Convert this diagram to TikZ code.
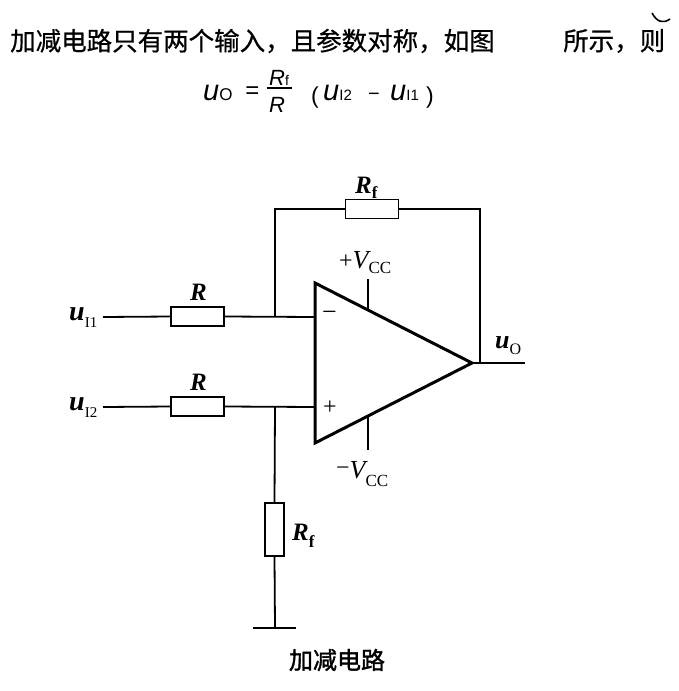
\documentclass[tikz,border=0pt]{standalone}
\usepackage{fontspec}
\setmainfont{Liberation Serif}
\newfontfamily\cjk[FakeBold=0.6]{Noto Sans CJK SC}
\newfontfamily\cjkb[FakeBold=1.5]{Noto Sans CJK SC}
\newfontfamily\hsans{Liberation Sans}
\newcommand\fsz[1]{\fontsize{#1}{#1}\selectfont}
\tikzset{
  wire/.style={line width=1.8pt},
  resh/.style={draw, line width=1.5pt, rectangle, inner sep=0pt, fill=white, minimum width=53pt, minimum height=19pt},
  resv/.style={draw, line width=1.5pt, rectangle, inner sep=0pt, fill=white, minimum width=19pt, minimum height=53pt},
  opamp/.style={line width=3pt, line join=miter},
  lbl/.style={inner sep=0pt, anchor=base west},
  ctr/.style={inner sep=0pt, anchor=center},
}
\begin{document}
\begin{tikzpicture}[x=1pt,y=-1pt]
\useasboundingbox[fill=white] (0,0) rectangle (679,691);

% ---- top text ----
\node[inner sep=0pt, anchor=west] (t1) at (10,41) {\cjk\fsz{25.5}加减电路只有两个输入，且参数对称，如图};
\node[inner sep=0pt, anchor=west] (t2) at (563,41) {\cjk\fsz{25.5}所示，则};
\draw[line width=1.6pt] (652,13) .. controls (657,22) and (663,24) .. (670,19);

% formula
\node[lbl] (fuo) at (203,100) {\hsans{\itshape\fsz{29}u}{\fsz{17}O}};
\node[ctr] (feq) at (252.5,93) {\hsans\fsz{24}=};
\node[lbl] (fnum) at (269,85) {\hsans{\itshape\fsz{22}R}{\fsz{14}f}};
\node[lbl] (fden) at (269,112) {\hsans\itshape\fsz{22}R};
\draw[line width=1.3pt] (267,88) -- (292,88);
\node[lbl] (fpl) at (311,103) {\hsans\fsz{23}(};
\node[lbl] (fu2) at (323,100) {\hsans{\itshape\fsz{29}u}{\fsz{15}I2}};
\node[ctr] (fmi) at (374,97) {\hsans\fsz{20}−};
\node[lbl] (fu1) at (390,100) {\hsans{\itshape\fsz{29}u}{\fsz{15}I1}};
\node[lbl] (fpr) at (426,103) {\hsans\fsz{23})};

% ---- circuit coordinates ----
\coordinate (in1) at (103,317);
\coordinate (in2) at (103,407);
\coordinate (j1) at (275,317);
\coordinate (j2) at (275,407);
\coordinate (ftl) at (275,209);
\coordinate (ftr) at (480,209);
\coordinate (A) at (315,283);
\coordinate (B) at (315,443);
\coordinate (C) at (472,363);
\coordinate (nin) at (315,317);
\coordinate (pin) at (315,407);
\coordinate (jo) at (480,363);
\coordinate (out) at (525,363);
\coordinate (vpt) at (368,279);
\coordinate (vpe) at (368,310);
\coordinate (vne) at (368,416);
\coordinate (vnb) at (368,450);
\coordinate (gnd) at (275,628);
\coordinate (gl) at (253,628);
\coordinate (gr) at (296,628);

% resistors
\node[resh] (r1) at (197.5,316.5) {};
\node[resh] (r2) at (197.5,406.5) {};
\node[resh] (rf) at (372,209) {};
\node[resv] (rg) at (274.5,529.5) {};

% wires
\draw[wire] (in1) -- (r1.west);
\draw[wire] (r1.east) -- (nin);
\draw[wire] (in2) -- (r2.west);
\draw[wire] (r2.east) -- (pin);
\draw[wire] (j1) -- (ftl) -- (rf.west);
\draw[wire] (rf.east) -- (ftr) -- (jo);
\draw[wire] (C) -- (out);
\draw[wire] (j2) -- (rg.north);
\draw[wire] (rg.south) -- (gnd);
\draw[wire] (gl) -- (gr);
\draw[wire] (vpt) -- (vpe);
\draw[wire] (vne) -- (vnb);

% op-amp
\draw[opamp] (A) -- (B) -- (C) -- cycle;
\node[ctr] (sm) at (329.5,316) {\fsz{26}−};
\node[ctr] (sp) at (330,408) {\fsz{24}+};

% labels
\node[lbl] (lu1) at (69,320) {{\bfseries\itshape\fsz{28}u}\raisebox{-7pt}{\fsz{15}I1}};
\node[lbl] (lu2) at (69,410) {{\bfseries\itshape\fsz{28}u}\raisebox{-7pt}{\fsz{15}I2}};
\node[lbl] (lr1) at (190,300) {\bfseries\itshape\fsz{25}R};
\node[lbl] (lr2) at (190,390) {\bfseries\itshape\fsz{25}R};
\node[lbl] (lrf) at (355,193) {{\bfseries\itshape\fsz{25}R}\raisebox{-5pt}{\bfseries\fsz{17}f}};
\node[lbl] (lrg) at (292,540) {{\bfseries\itshape\fsz{25}R}\raisebox{-7pt}{\bfseries\fsz{17}f}};
\node[lbl] (lvp) at (339,268) {{\fsz{24}+}{\itshape\fsz{26}V}\raisebox{-5pt}{\fsz{17}CC}};
\node[lbl] (lvn) at (336,478) {\raisebox{3pt}{\fsz{24}−}{\itshape\fsz{26}V}\raisebox{-8pt}{\fsz{17}CC}};
\node[lbl] (luo) at (495,348) {{\bfseries\itshape\fsz{26}u}\raisebox{-6pt}{\fsz{16}O}};

% caption
\node[ctr] (cap) at (337,660) {\cjkb\fsz{24}加减电路};
\end{tikzpicture}
\end{document}
